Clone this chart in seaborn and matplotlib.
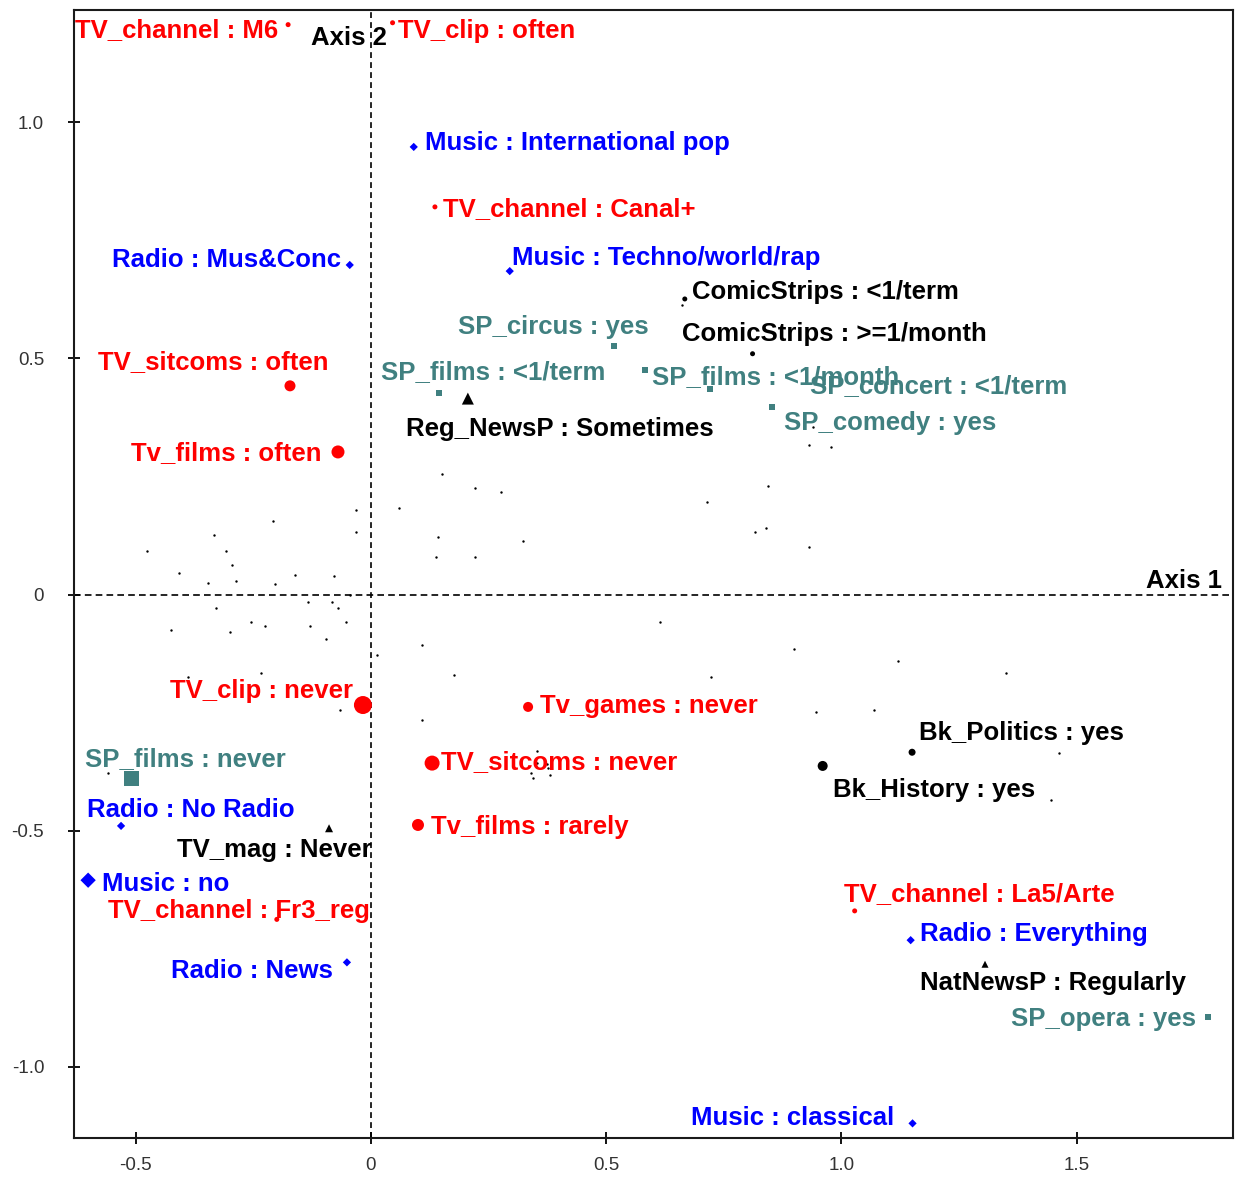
import numpy as np
import pandas as pd
import matplotlib
matplotlib.use("Agg")
import matplotlib.pyplot as plt
import seaborn as sns

# ---- Active categories: coordinates on factorial axes 1 and 2 ----
cat_labels = [
    "TV_channel : M6", "TV_clip : often", "Music : International pop",
    "TV_channel : Canal+", "Music : Techno/world/rap", "ComicStrips : <1/term",
    "ComicStrips : >=1/month", "SP_circus : yes", "SP_films : <1/term",
    "Reg_NewsP : Sometimes", "SP_films : <1/month", "SP_concert : <1/term",
    "SP_comedy : yes", "TV_sitcoms : often", "Tv_films : often",
    "Radio : Mus&Conc", "TV_clip : never", "SP_films : never",
    "Radio : No Radio", "TV_mag : Never", "Music : no",
    "TV_channel : Fr3_reg", "Radio : News", "Tv_games : never",
    "TV_sitcoms : never", "Tv_films : rarely", "Bk_Politics : yes",
    "Bk_History : yes", "TV_channel : La5/Arte", "Radio : Everything",
    "NatNewsP : Regularly", "SP_opera : yes", "Music : classical",
]
cat_axis1 = [
    -0.176, 0.046, 0.091, 0.136, 0.295, 0.667, 0.811, 0.516, 0.145, 0.206,
    0.582, 0.720, 0.852, -0.172, -0.070, -0.045, -0.017, -0.508, -0.531,
    -0.089, -0.601, -0.200, -0.051, 0.334, 0.130, 0.100, 1.150, 0.960,
    1.028, 1.147, 1.305, 1.779, 1.151,
]
cat_axis2 = [
    1.207, 1.211, 0.948, 0.821, 0.685, 0.626, 0.510, 0.527, 0.427, 0.415,
    0.476, 0.435, 0.397, 0.442, 0.302, 0.698, -0.234, -0.389, -0.490,
    -0.495, -0.605, -0.688, -0.779, -0.238, -0.357, -0.488, -0.334, -0.363,
    -0.670, -0.732, -0.783, -0.895, -1.120,
]
cat_block = [
    "TV", "TV", "Radio/Music", "TV", "Radio/Music", "Reading", "Reading",
    "Shows", "Shows", "Press", "Shows", "Shows", "Shows", "TV", "TV",
    "Radio/Music", "TV", "Shows", "Radio/Music", "Press", "Radio/Music",
    "TV", "Radio/Music", "TV", "TV", "TV", "Reading", "Reading", "TV",
    "Radio/Music", "Press", "Shows", "Radio/Music",
]
# relative weight of each category (drawn as marker diameter)
cat_weight = [
    5, 5, 7, 5, 7, 5, 5, 6, 6, 12, 6, 6, 6, 11, 13, 7, 18, 15, 7, 8,
    13, 5, 7, 10, 15, 12, 7, 10, 5, 7, 7, 6, 7,
]

# ---- Individuals (supplementary cloud) ----
ind_axis1 = [
    -0.032, -0.032, 0.060, -0.476, -0.334, -0.208, -0.308, -0.295, -0.408,
    -0.346, -0.287, -0.204, -0.161, -0.079, -0.134, -0.083, -0.070, -0.329,
    -0.045, -0.425, -0.300, -0.255, -0.225, -0.130, -0.053, -0.096, 0.013,
    -0.389, -0.234, -0.066, -0.559, 0.151, 0.221, 0.276, 0.142, 0.323,
    0.138, 0.221, 0.714, 0.844, 0.816, 0.839, 0.931, 0.931, 0.661, 0.939,
    0.977, 0.614, 0.899, 0.108, 0.176, 0.722, 0.108, 0.353, 0.353, 0.374,
    0.340, 0.344, 0.380, 0.376, 1.120, 1.349, 0.946, 1.069, 1.462, 1.445,
]
ind_axis2 = [
    0.179, 0.132, 0.183, 0.092, 0.126, 0.156, 0.092, 0.062, 0.046, 0.024,
    0.029, 0.022, 0.041, 0.039, -0.016, -0.016, -0.029, -0.029, -0.001,
    -0.075, -0.079, -0.058, -0.067, -0.067, -0.058, -0.094, -0.128, -0.175,
    -0.166, -0.245, -0.378, 0.255, 0.226, 0.217, 0.122, 0.114, 0.079, 0.079,
    0.196, 0.230, 0.132, 0.141, 0.317, 0.101, 0.613, 0.355, 0.313, -0.058,
    -0.115, -0.107, -0.171, -0.175, -0.266, -0.332, -0.356, -0.358, -0.378,
    -0.388, -0.383, -0.368, -0.141, -0.166, -0.249, -0.245, -0.336, -0.435,
]

# ---- Label placement (x, y, horizontal alignment) ----
label_pos = [
    (-0.198, 1.200, "right"), (0.057, 1.198, "left"), (0.115, 0.961, "left"),
    (0.153, 0.821, "left"), (0.300, 0.717, "left"), (0.682, 0.645, "left"),
    (0.661, 0.558, "left"), (0.185, 0.571, "left"), (0.021, 0.476, "left"),
    (0.074, 0.355, "left"), (0.597, 0.467, "left"), (0.933, 0.446, "left"),
    (0.878, 0.368, "left"), (-0.091, 0.497, "right"), (-0.104, 0.304, "right"),
    (-0.064, 0.713, "right"), (-0.038, -0.200, "right"), (-0.608, -0.344, "left"),
    (-0.603, -0.452, "left"), (-0.412, -0.535, "left"), (-0.572, -0.607, "left"),
    (-0.559, -0.664, "left"), (-0.425, -0.791, "left"), (0.359, -0.230, "left"),
    (0.149, -0.350, "left"), (0.127, -0.488, "left"), (1.164, -0.287, "left"),
    (0.982, -0.408, "left"), (1.005, -0.630, "left"), (1.166, -0.713, "left"),
    (1.166, -0.817, "left"), (1.753, -0.893, "right"), (1.113, -1.103, "right"),
]

block_colors = {"TV": "#FF0000", "Radio/Music": "#0000FF", "Shows": "#408080",
                "Reading": "#000000", "Press": "#000000"}
block_markers = {"TV": "o", "Radio/Music": "D", "Shows": "s",
                 "Reading": "o", "Press": "^"}

sns.set_style("white")
plt.rcParams["font.family"] = ["Liberation Sans", "DejaVu Sans"]

DPI = 100
fig = plt.figure(figsize=(12.35, 11.77), dpi=DPI)
ax = fig.add_axes([74 / 1235, 39 / 1177, 1159 / 1235, 1128 / 1177])

cats = pd.DataFrame({"label": cat_labels, "axis1": cat_axis1, "axis2": cat_axis2,
                     "block": cat_block, "weight": cat_weight})
inds = pd.DataFrame({"axis1": ind_axis1, "axis2": ind_axis2})

# dashed axes through the origin
ax.axhline(0, color="black", lw=1.2, ls=(0, (4, 2.5)), zorder=1)
ax.axvline(0, color="black", lw=1.2, ls=(0, (3.5, 2.5)), zorder=1)

sns.scatterplot(data=inds, x="axis1", y="axis2", color="black", s=3,
                linewidth=0, ax=ax, zorder=2, legend=False)


def marker_area(block, w):
    # diameter in px -> area in pt^2 (diamonds are drawn rotated, so shrink)
    d = w * 72 / DPI
    if block == "Radio/Music":
        d /= 1.2
    return d ** 2


cats["area"] = [marker_area(b, w) for b, w in zip(cats["block"], cats["weight"])]
for block, sub in cats.groupby("block", sort=False):
    sns.scatterplot(data=sub, x="axis1", y="axis2", color=block_colors[block],
                    marker=block_markers[block], s=sub["area"].to_numpy(),
                    linewidth=0, edgecolor="none", ax=ax, zorder=3, legend=False)

for lab, blk, (lx, ly, ha) in zip(cat_labels, cat_block, label_pos):
    ax.text(lx, ly, lab, color=block_colors[blk], fontsize=18.5,
            fontweight="bold", ha=ha, va="center_baseline", zorder=4)

ax.text(0.034, 1.183, "Axis 2", fontsize=18.5, fontweight="bold",
        ha="right", va="center_baseline", color="black", zorder=4)
ax.text(1.808, 0.035, "Axis 1", fontsize=18.5, fontweight="bold",
        ha="right", va="center_baseline", color="black", zorder=4)

ax.set_xlim(-0.631, 1.832)
ax.set_ylim(-1.151, 1.238)
ax.set_xticks([-0.5, 0, 0.5, 1.0, 1.5])
ax.set_xticklabels(["-0.5", "0", "0.5", "1.0", "1.5"])
ax.set_yticks([-1.0, -0.5, 0, 0.5, 1.0])
ax.set_yticklabels(["-1.0", "-0.5", "0", "0.5", "1.0"])
ax.tick_params(axis="both", which="major", bottom=True, left=True,
               direction="inout", length=9, width=1.3,
               color="black", labelsize=13.5, labelcolor="#333333")
ax.tick_params(axis="x", pad=9)
ax.tick_params(axis="y", pad=17)
ax.set_xlabel("")
ax.set_ylabel("")
for sp in ax.spines.values():
    sp.set_visible(True)
    sp.set_color("#1a1a1a")
    sp.set_linewidth(1.5)

fig.savefig("out.png", dpi=DPI, facecolor="white")
